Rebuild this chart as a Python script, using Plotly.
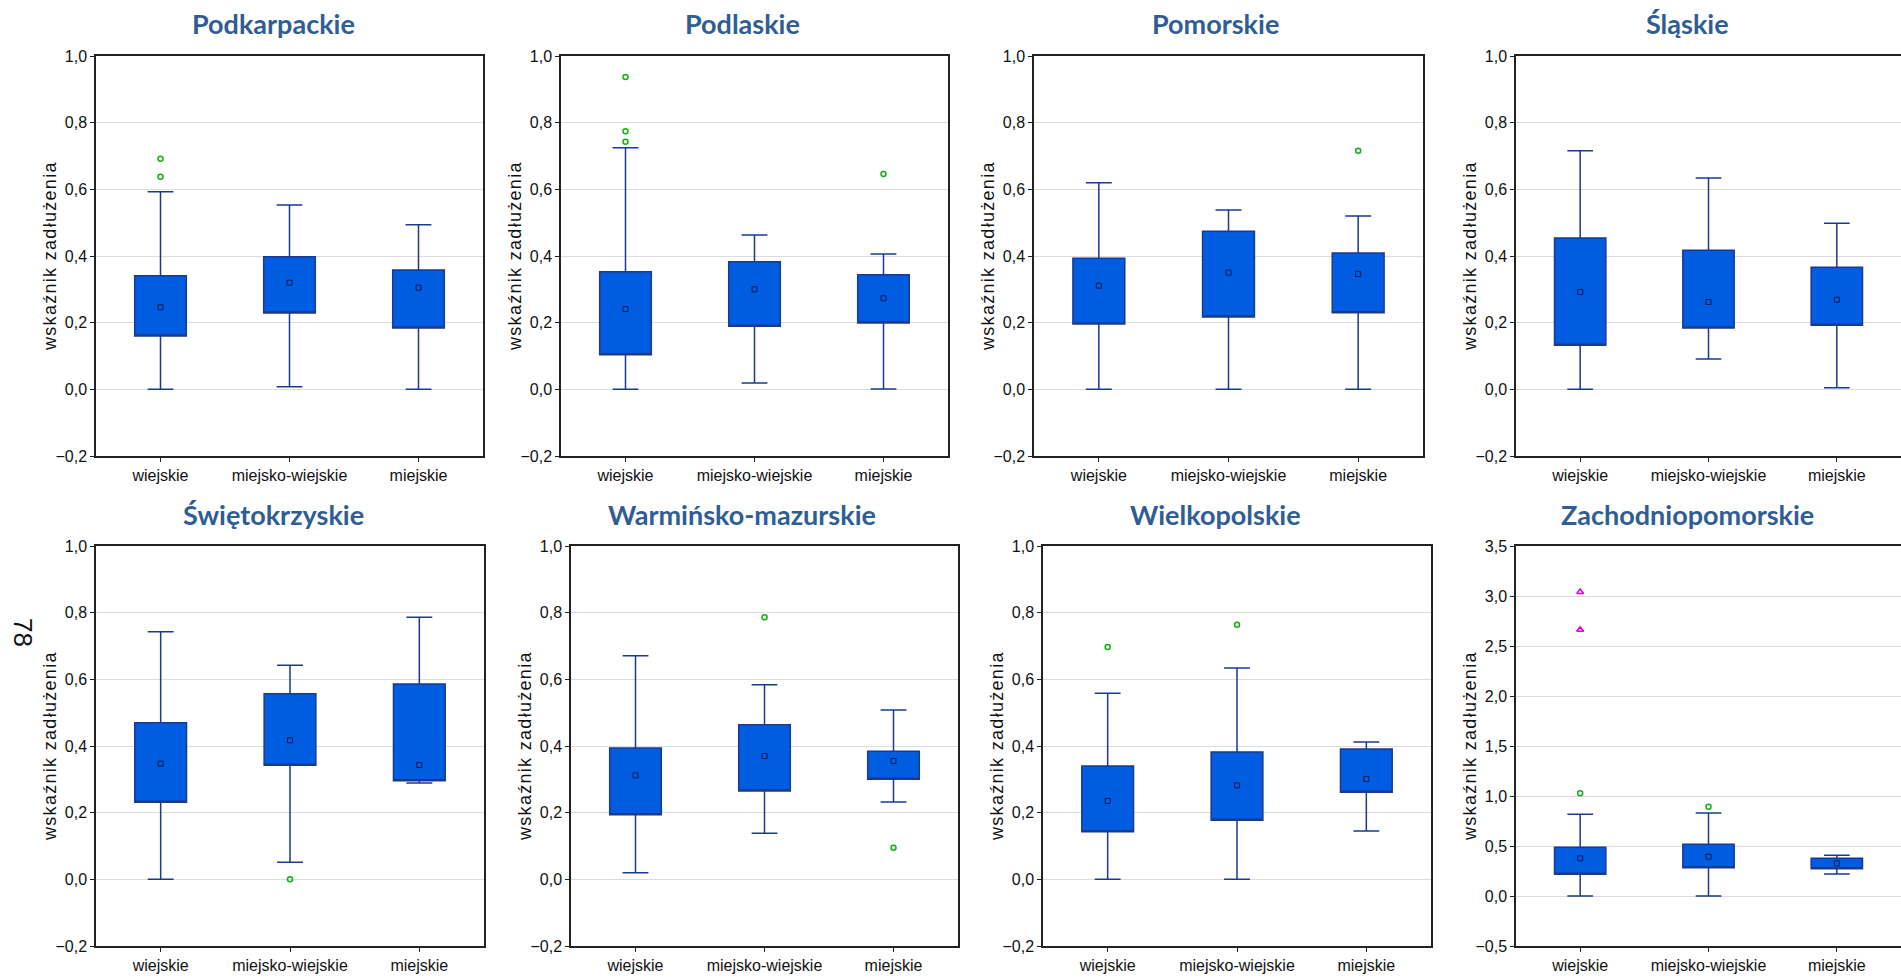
import plotly.graph_objects as go

categories = ["wiejskie", "miejsko-wiejskie", "miejskie"]
regions = ["Podkarpackie", "Podlaskie", "Pomorskie", "Śląskie",
           "Świętokrzyskie", "Warmińsko-mazurskie", "Wielkopolskie", "Zachodniopomorskie"]

# per region: values for [wiejskie, miejsko-wiejskie, miejskie]
whisker_low = [
    [0.000, 0.008, 0.000],
    [0.000, 0.019, 0.001],
    [0.000, 0.000, 0.000],
    [0.000, 0.091, 0.005],
    [0.000, 0.051, 0.289],
    [0.020, 0.138, 0.232],
    [0.000, 0.000, 0.145],
    [0.000, 0.000, 0.220],
]
box_low = [
    [0.160, 0.229, 0.184],
    [0.104, 0.189, 0.199],
    [0.196, 0.217, 0.230],
    [0.132, 0.184, 0.192],
    [0.231, 0.342, 0.296],
    [0.194, 0.265, 0.300],
    [0.143, 0.177, 0.261],
    [0.217, 0.283, 0.273],
]
center = [
    [0.246, 0.320, 0.305],
    [0.241, 0.300, 0.273],
    [0.311, 0.350, 0.346],
    [0.292, 0.262, 0.269],
    [0.347, 0.417, 0.343],
    [0.312, 0.370, 0.355],
    [0.235, 0.282, 0.301],
    [0.377, 0.393, 0.327],
]
box_high = [
    [0.341, 0.398, 0.358],
    [0.353, 0.383, 0.344],
    [0.393, 0.474, 0.409],
    [0.454, 0.417, 0.366],
    [0.470, 0.557, 0.586],
    [0.394, 0.464, 0.384],
    [0.340, 0.382, 0.391],
    [0.487, 0.517, 0.377],
]
whisker_high = [
    [0.593, 0.553, 0.494],
    [0.725, 0.463, 0.406],
    [0.620, 0.538, 0.520],
    [0.716, 0.634, 0.498],
    [0.743, 0.642, 0.786],
    [0.671, 0.584, 0.508],
    [0.558, 0.634, 0.412],
    [0.817, 0.830, 0.407],
]
# outliers: list of (category index, value)
outliers = [
    [(0, 0.692), (0, 0.638)],
    [(0, 0.937), (0, 0.774), (0, 0.743), (2, 0.646)],
    [(2, 0.716)],
    [],
    [(1, 0.000)],
    [(1, 0.786), (2, 0.095)],
    [(0, 0.697), (1, 0.764)],
    [(0, 1.027), (1, 0.893)],
]
extremes = [[], [], [], [], [], [], [], [(0, 3.040), (0, 2.663)]]

y_ranges = [[-0.2, 1.0]] * 7 + [[-0.5, 3.5]]
y_dtick = [0.2] * 7 + [0.5]
ytitle = "wskaźnik zadłużenia"
page_number = "78"

W, H = 1901, 978
x_domains_px = [(96, 483), (561, 948), (1034, 1423), (1516, 1903),
                (96, 484), (571, 958), (1043, 1431), (1516, 1903)]
row_y_px = [(56, 456), (546, 946)]
title_x_px = [273, 742, 1215, 1687, 273, 742, 1215, 1687]
title_y_px = [24, 514]

BOX_FILL = "#005CE0"
BOX_LINE = "#1B3A8F"
TICK_FONT = dict(family="Liberation Sans, Arial", size=16, color="#111111")

fig = go.Figure()
for i, reg in enumerate(regions):
    ax = "" if i == 0 else str(i + 1)
    xa, ya = "x" + ax, "y" + ax
    fig.add_trace(go.Box(
        x=categories, q1=box_low[i], median=box_low[i], q3=box_high[i],
        lowerfence=whisker_low[i], upperfence=whisker_high[i],
        fillcolor=BOX_FILL, line=dict(color=BOX_LINE, width=1.5),
        width=0.4, whiskerwidth=0.5, boxpoints=False, hoverinfo="skip",
        xaxis=xa, yaxis=ya, showlegend=False))
    fig.add_trace(go.Scatter(
        x=categories, y=center[i], mode="markers",
        marker=dict(symbol="square", size=5, color=BOX_FILL, line=dict(color="#0A1A50", width=1)),
        xaxis=xa, yaxis=ya, showlegend=False))
    if outliers[i]:
        fig.add_trace(go.Scatter(
            x=[categories[c] for c, v in outliers[i]], y=[v for c, v in outliers[i]], mode="markers",
            marker=dict(symbol="circle-open", size=5, color="#10B010", line=dict(width=1.5)),
            xaxis=xa, yaxis=ya, showlegend=False))
    if extremes[i]:
        fig.add_trace(go.Scatter(
            x=[categories[c] for c, v in extremes[i]], y=[v for c, v in extremes[i]], mode="markers",
            marker=dict(symbol="triangle-up-open", size=6, color="#E000E0", line=dict(width=1.5)),
            xaxis=xa, yaxis=ya, showlegend=False))

    x0, x1 = x_domains_px[i]
    r = i // 4
    yt, yb = row_y_px[r]
    clipped_right = x1 > W
    fig.layout["xaxis" + ax] = dict(
        domain=[x0 / W, min(x1 / W, 1.0)], anchor=ya, type="category",
        categoryorder="array", categoryarray=categories, range=[-0.5, 2.5],
        showline=True, linecolor="#222222", linewidth=1.5, mirror=True,
        ticks="outside", ticklen=4, tickcolor="#222222", automargin=False,
        showgrid=False, tickfont=TICK_FONT, fixedrange=True)
    fig.layout["yaxis" + ax] = dict(
        domain=[1 - yb / H, 1 - yt / H], anchor=xa,
        range=y_ranges[i], dtick=y_dtick[i], tick0=0, tickformat=".1f",
        showline=True, linecolor="#222222", linewidth=1.5, mirror=not clipped_right,
        ticks="outside", ticklen=4, tickcolor="#222222", automargin=False,
        showgrid=True, gridcolor="#DCDCDC", gridwidth=1, zeroline=False,
        tickfont=TICK_FONT, fixedrange=True)
    # y-axis title
    fig.add_annotation(
        text='<span style="letter-spacing:1.3px">' + ytitle + '</span>',
        x=(x0 - 46) / W, y=1 - (yt + yb) / 2 / H, xref="paper", yref="paper",
        xanchor="center", yanchor="middle", textangle=-90, showarrow=False,
        font=dict(family="Liberation Sans, Arial", size=18, color="#111111"))
    # panel title
    fig.add_annotation(
        text="<b>" + reg + "</b>", x=title_x_px[i] / W, y=1 - title_y_px[r] / H,
        xref="paper", yref="paper", xanchor="center", yanchor="middle", showarrow=False,
        font=dict(family="Lato, Open Sans, sans-serif", size=27, color="#2F5D95"))

fig.add_annotation(text=page_number, x=23 / W, y=1 - 632 / H, xref="paper", yref="paper",
                   textangle=90, showarrow=False, xanchor="center", yanchor="middle",
                   font=dict(family="Liberation Sans, Arial", size=26, color="#111111"))

fig.update_layout(width=W, height=H, margin=dict(l=0, r=0, t=0, b=0, autoexpand=False),
                  paper_bgcolor="white", plot_bgcolor="white", separators=", ",
                  boxmode="overlay")
fig.write_html("out.html", config={"displayModeBar": False},
               post_script="document.body.style.margin='0';document.body.style.overflow='hidden';")
